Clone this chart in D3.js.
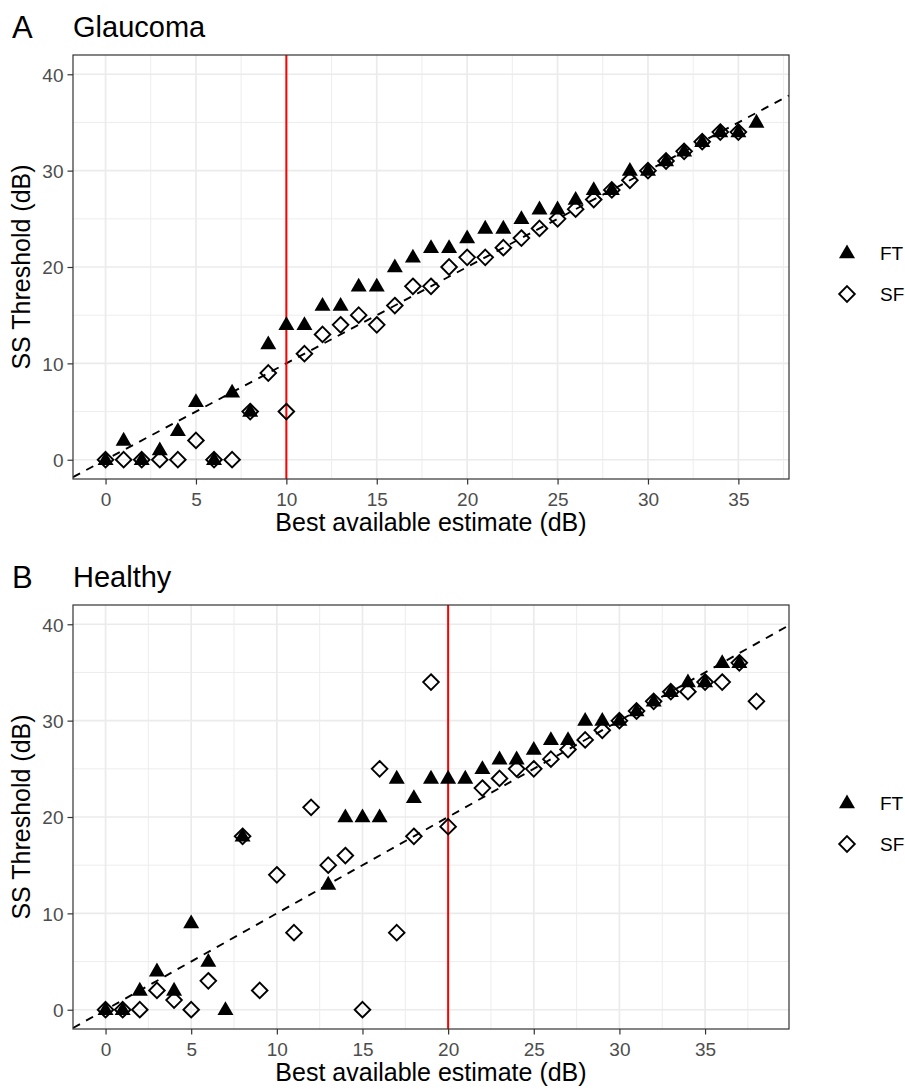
<!DOCTYPE html>
<html>
<head>
<meta charset="utf-8">
<script src="https://cdn.jsdelivr.net/npm/d3@7"></script>
<style>
  body { margin: 0; background: #fff; }
  text { font-family: 'Liberation Sans', Arial, Helvetica, sans-serif; }
</style>
</head>
<body>
<svg id="chart"></svg>
<script>
(function() {
  'use strict';

  // Panel A: glaucoma
  let glaucomaFTx = [0,1,2,3,4,5,6,7,8,9,10,11,12,13,14,15,16,17,18,19,20,21,22,23,24,25,26,27,28,29,30,31,32,33,34,35,36];
  let glaucomaFTy = [0,2,0,1,3,6,0,7,5,12,14,14,16,16,18,18,20,21,22,22,23,24,24,25,26,26,27,28,28,30,30,31,32,33,34,34,35];
  let glaucomaSFx = [0,1,2,3,4,5,6,7,8,9,10,11,12,13,14,15,16,17,18,19,20,21,22,23,24,25,26,27,28,29,30,31,32,33,34,35];
  let glaucomaSFy = [0,0,0,0,0,2,0,0,5,9,5,11,13,14,15,14,16,18,18,20,21,21,22,23,24,25,26,27,28,29,30,31,32,33,34,34];

  // Panel B: healthy
  let healthyFTx = [0,1,2,3,4,5,6,7,8,13,14,15,16,17,18,19,20,21,22,23,24,25,26,27,28,29,30,31,32,33,34,35,36,37];
  let healthyFTy = [0,0,2,4,2,9,5,0,18,13,20,20,20,24,22,24,24,24,25,26,26,27,28,28,30,30,30,31,32,33,34,34,36,36];
  let healthySFx = [0,1,2,3,4,5,6,8,9,10,11,12,13,14,15,16,17,18,19,20,22,23,24,25,26,27,28,29,30,31,32,33,34,35,36,37,38];
  let healthySFy = [0,0,0,2,1,0,3,18,2,14,8,21,15,16,0,25,8,18,34,19,23,24,25,25,26,27,28,29,30,31,32,33,33,34,34,36,32];

  let xTicks = [0, 5, 10, 15, 20, 25, 30, 35];
  let yTicks = [0, 10, 20, 30, 40];
  let cutoffs = [10, 20];
  let tags = ['A', 'B'];
  let titles = ['Glaucoma', 'Healthy'];
  let seriesNames = ['FT', 'SF'];

  let zip = (xs, ys) => xs.map((x, i) => ({x: x, y: ys[i]}));

  let panels = [
    {tag: tags[0], title: titles[0], cutoff: cutoffs[0], top: 55,
      ft: zip(glaucomaFTx, glaucomaFTy), sf: zip(glaucomaSFx, glaucomaSFy)},
    {tag: tags[1], title: titles[1], cutoff: cutoffs[1], top: 605,
      ft: zip(healthyFTx, healthyFTy), sf: zip(healthySFx, healthySFy)}
  ];

  let left = 73, right = 789, panelH = 424;
  let font = "'Liberation Sans', Arial, Helvetica, sans-serif";

  let svg = d3.select('#chart')
    .attr('width', 905)
    .attr('height', 1089);

  let triPath = 'M0,-8.6L8,5.2L-8,5.2Z';
  let diaPath = 'M0,-7.8L7.8,0L0,7.8L-7.8,0Z';

  panels.forEach((p, idx) => {
    let allX = p.ft.concat(p.sf).map(d => d.x);
    let xMax = d3.max(allX);
    let pad = xMax * 0.05;
    let x = d3.scaleLinear().domain([-pad, xMax + pad]).range([left, right]);
    let y = d3.scaleLinear().domain([-2, 42]).range([p.top + panelH, p.top]);

    let g = svg.append('g');

    // Minor grid
    let xMinor = xTicks.map(t => t + 2.5).filter(t => t < x.domain()[1]);
    let yMinor = yTicks.map(t => t + 5).filter(t => t < y.domain()[1]);
    g.selectAll('.xminor').data(xMinor).enter().append('line')
      .attr('x1', d => x(d)).attr('x2', d => x(d))
      .attr('y1', p.top).attr('y2', p.top + panelH)
      .attr('stroke', '#ebebeb').attr('stroke-width', 0.9);
    g.selectAll('.yminor').data(yMinor).enter().append('line')
      .attr('x1', left).attr('x2', right)
      .attr('y1', d => y(d)).attr('y2', d => y(d))
      .attr('stroke', '#ebebeb').attr('stroke-width', 0.9);

    // Major grid
    g.selectAll('.xmajor').data(xTicks).enter().append('line')
      .attr('x1', d => x(d)).attr('x2', d => x(d))
      .attr('y1', p.top).attr('y2', p.top + panelH)
      .attr('stroke', '#ebebeb').attr('stroke-width', 1.7);
    g.selectAll('.ymajor').data(yTicks).enter().append('line')
      .attr('x1', left).attr('x2', right)
      .attr('y1', d => y(d)).attr('y2', d => y(d))
      .attr('stroke', '#ebebeb').attr('stroke-width', 1.7);

    // Clip for the reference line
    let clipId = 'clip' + idx;
    svg.append('clipPath').attr('id', clipId)
      .append('rect')
      .attr('x', left).attr('y', p.top)
      .attr('width', right - left).attr('height', panelH);

    // Identity dashed line
    let dom = x.domain();
    g.append('line')
      .attr('clip-path', 'url(#' + clipId + ')')
      .attr('x1', x(dom[0])).attr('y1', y(dom[0]))
      .attr('x2', x(dom[1])).attr('y2', y(dom[1]))
      .attr('stroke', '#000').attr('stroke-width', 1.9)
      .attr('stroke-dasharray', '8,7');

    // Red cutoff line
    g.append('line')
      .attr('x1', x(p.cutoff)).attr('x2', x(p.cutoff))
      .attr('y1', p.top).attr('y2', p.top + panelH)
      .attr('stroke', '#ff0000').attr('stroke-width', 2);

    // SF diamonds
    g.selectAll('.sf').data(p.sf).enter().append('path')
      .attr('d', diaPath)
      .attr('transform', d => 'translate(' + x(d.x) + ',' + y(d.y) + ')')
      .attr('fill', 'none').attr('stroke', '#000').attr('stroke-width', 1.9);

    // FT triangles
    g.selectAll('.ft').data(p.ft).enter().append('path')
      .attr('d', triPath)
      .attr('transform', d => 'translate(' + x(d.x) + ',' + y(d.y) + ')')
      .attr('fill', '#000');

    // Panel border
    g.append('rect')
      .attr('x', left).attr('y', p.top)
      .attr('width', right - left).attr('height', panelH)
      .attr('fill', 'none').attr('stroke', '#333').attr('stroke-width', 1.2);

    // Axes
    let xAxis = d3.axisBottom(x).tickValues(xTicks).tickSize(5.5).tickPadding(4);
    let yAxis = d3.axisLeft(y).tickValues(yTicks).tickSize(5.5).tickPadding(4);

    let gx = g.append('g')
      .attr('transform', 'translate(0,' + (p.top + panelH) + ')')
      .call(xAxis);
    let gy = g.append('g')
      .attr('transform', 'translate(' + left + ',0)')
      .call(yAxis);
    [gx, gy].forEach(a => {
      a.select('.domain').remove();
      a.selectAll('.tick line').attr('stroke', '#333').attr('stroke-width', 1.2);
      a.selectAll('.tick text')
        .attr('fill', '#4d4d4d')
        .style('font-size', '19px')
        .style('font-family', font);
    });
    gx.selectAll('.tick text').attr('dy', '0.92em');
    gy.selectAll('.tick text').attr('dy', '0.36em');

    // Axis titles
    g.append('text')
      .attr('x', (left + right) / 2)
      .attr('y', p.top + panelH + 52)
      .attr('text-anchor', 'middle')
      .style('font-size', '25px')
      .text('Best available estimate (dB)');

    g.append('text')
      .attr('transform', 'translate(30,' + (p.top + panelH / 2) + ') rotate(-90)')
      .attr('text-anchor', 'middle')
      .style('font-size', '25px')
      .text('SS Threshold (dB)');

    // Tag and title
    g.append('text')
      .attr('x', 12).attr('y', p.top - 17)
      .style('font-size', '31px')
      .text(p.tag);
    g.append('text')
      .attr('x', 73).attr('y', p.top - 18)
      .style('font-size', '29px')
      .text(p.title);

    // Legend
    let midY = p.top + panelH / 2;
    let legend = g.append('g');
    let shapes = [triPath, diaPath];
    seriesNames.forEach((name, i) => {
      let ly = midY - 14 + i * 41;
      legend.append('path')
        .attr('d', shapes[i])
        .attr('transform', 'translate(847,' + ly + ')')
        .attr('fill', i === 0 ? '#000' : 'none')
        .attr('stroke', i === 0 ? 'none' : '#000')
        .attr('stroke-width', 1.9);
      legend.append('text')
        .attr('x', 880).attr('y', ly)
        .attr('dy', '0.36em')
        .style('font-size', '19px')
        .text(name);
    });
  });
})();
</script>
</body>
</html>
